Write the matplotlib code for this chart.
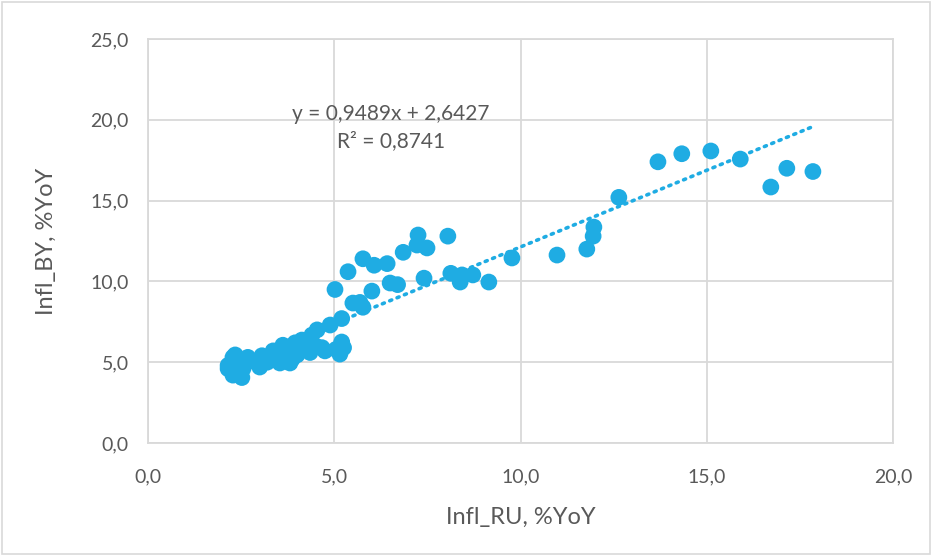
import matplotlib

matplotlib.use("Agg")
import matplotlib.pyplot as plt
import numpy as np
from matplotlib.patches import Rectangle
from matplotlib.ticker import FuncFormatter, MultipleLocator

plt.rcParams["font.family"] = ["Lato", "DejaVu Sans"]

# Inflation, Russia (x) vs Belarus (y), % YoY
infl_ru = [
    13.69, 14.33, 15.11, 15.90, 16.72, 17.15, 17.85, 12.64, 11.97, 11.95,
    11.78, 10.98, 9.77, 9.15, 8.72, 8.43, 8.38, 8.13, 8.05, 7.49,
    7.25, 7.22, 7.41, 6.85, 6.42, 6.07, 5.77, 5.37, 6.50, 6.70,
    6.01, 5.02, 5.50, 5.69, 5.77, 5.20, 4.89, 4.54, 5.20, 5.25,
    5.15, 5.05, 4.67, 4.40,
    2.28, 2.34, 2.15, 2.15, 2.28, 2.52, 2.40, 2.68, 3.06, 3.00,
    3.20, 3.36, 3.54, 3.62, 3.81, 3.87, 3.95, 4.00, 4.13, 4.35,
    4.20, 4.50, 3.70, 3.45, 2.90, 2.55, 2.30, 4.75, 4.30, 3.30,
]
infl_by = [
    17.40, 17.90, 18.07, 17.57, 15.84, 17.00, 16.80, 15.20, 13.36, 12.80,
    12.00, 11.63, 11.45, 9.96, 10.40, 10.40, 9.96, 10.50, 12.80, 12.07,
    12.87, 12.25, 10.20, 11.80, 11.10, 11.00, 11.40, 10.60, 9.90, 9.80,
    9.40, 9.50, 8.66, 8.70, 8.40, 7.70, 7.30, 7.00, 6.25, 5.90,
    5.50, 5.80, 5.90, 6.68,
    5.30, 5.45, 4.80, 4.60, 4.20, 4.05, 4.50, 5.30, 5.40, 4.70,
    5.00, 5.70, 4.95, 6.05, 4.95, 5.20, 6.20, 5.45, 6.37, 5.60,
    5.80, 6.00, 5.50, 5.30, 5.00, 4.60, 4.90, 5.70, 6.40, 5.20,
]

slope = 0.9489
intercept = 2.6427
r2 = 0.8741

BLUE = "#1FACE3"
GRID = "#d9d9d9"
TEXT = "#595959"


def fmt(v):
    return f"{v:.4f}".replace(".", ",")


fig = plt.figure(figsize=(9.32, 5.55), dpi=100)
ax = fig.add_axes([148 / 932, 1 - 443 / 555, (893 - 148) / 932, (443 - 39) / 555])

ax.scatter(infl_ru, infl_by, s=145, color=BLUE, edgecolors="none", zorder=3)

x_line = np.array([min(infl_ru), max(infl_ru)])
ax.plot(x_line, slope * x_line + intercept, color=BLUE, lw=2.6,
        linestyle=(0, (0.6, 1.6)), dash_capstyle="round", zorder=4)

ax.set_xlim(0, 20)
ax.set_ylim(0, 25)
ax.xaxis.set_major_locator(MultipleLocator(5))
ax.yaxis.set_major_locator(MultipleLocator(5))
comma = FuncFormatter(lambda v, _: f"{v:.1f}".replace(".", ","))
ax.xaxis.set_major_formatter(comma)
ax.yaxis.set_major_formatter(comma)
ax.tick_params(length=0, labelsize=14, colors=TEXT)
ax.tick_params(axis="x", pad=18)
ax.tick_params(axis="y", pad=14)
ax.grid(True, color=GRID, lw=1.3, zorder=0)
ax.set_axisbelow(True)
for sp in ax.spines.values():
    sp.set_color(GRID)
    sp.set_linewidth(1.3)

ax.set_xlabel("Infl_RU, %YoY", fontsize=17, color=TEXT, labelpad=16)
ax.set_ylabel("Infl_BY, %YoY", fontsize=17, color=TEXT, labelpad=24)

ax.text(6.52, 20.36, f"y = {fmt(slope)}x + {fmt(intercept)}",
        ha="center", va="center", fontsize=15, color=TEXT, zorder=5)
ax.text(6.52, 18.7, f"R² = {fmt(r2)}",
        ha="center", va="center", fontsize=15, color=TEXT, zorder=5)

fig.patches.append(Rectangle((0.002, 0.002), 0.996, 0.994, transform=fig.transFigure,
                             fill=False, edgecolor=GRID, lw=1.2))

fig.savefig("out.png", dpi=100)
